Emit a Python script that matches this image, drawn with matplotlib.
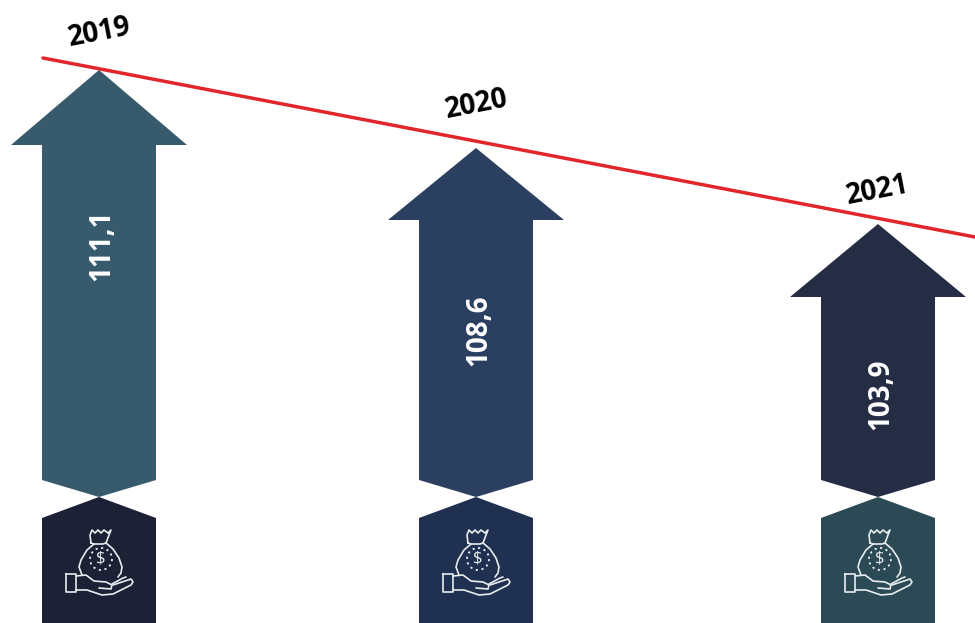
#!/usr/bin/env python3
"""Three falling arrows with a red trend line, laid out in image pixels."""

import matplotlib

matplotlib.use("Agg")
import matplotlib.pyplot as plt
from matplotlib.patches import Circle, Polygon

years = ["2019", "2020", "2021"]
value_labels = ["111,1", "108,6", "103,9"]
centers = [99, 476, 878]
arrow_tips = [70, 148, 224]
head_bases = [145, 220, 297]
arrow_colors = ["#375a6c", "#2b3f60", "#252d45"]
base_colors = ["#1c2136", "#1f3050", "#2b4a55"]
year_xy = [(100, 33), (477, 105), (878, 191)]
label_y = [245, 330, 394]
trend_x = [43, 975]
trend_y = [58, 237]

plt.rcParams["font.family"] = ["Open Sans", "DejaVu Sans"]
ICON = "#e8ecef"


def draw_icon(ax, cx):
    # offsets are from the arrow centre and the notch at y=497
    def line(xs, ys):
        ax.plot([cx + x for x in xs], [497 + y for y in ys], color=ICON, lw=1.2,
                solid_capstyle="round", solid_joinstyle="round")

    # bag
    line([-8, -9, -7, -4, -1, 2, 5, 9, 12, 10, 7, 4, -5, -8],
         [46, 38, 33, 36, 33, 36, 33, 36, 33, 38, 46, 47, 47, 46])
    line([-5, -12, -18, -20, -17], [47, 53, 63, 70, 78])
    line([7, 14, 20, 23, 22, 19], [46, 52, 61, 70, 76, 80])
    ax.add_patch(Circle((cx + 2, 497 + 62), 11, fill=False, ec=ICON, lw=1.3, ls=(0, (1.2, 2.0))))
    ax.text(cx + 2, 497 + 62, "$", color=ICON, fontsize=12, ha="center", va="center")
    # hand and cuff
    line([-33, -23, -23, -33, -33], [77, 77, 95, 95, 77])
    line([-23, -13, -5, 7, 13, 12, 0], [79, 78, 84, 85, 88, 92, 91])
    line([-23, -12, 3, 14, 32, 34, 32, 14], [93, 93, 98, 97, 88, 85, 82, 88])
    line([13, 24, 27], [87, 81, 80])


fig = plt.figure(figsize=(9.75, 6.23), dpi=100)
ax = fig.add_axes([0, 0, 1, 1])
ax.set_xlim(0, 975)
ax.set_ylim(623, 0)
ax.axis("off")

for i, cx in enumerate(centers):
    # main arrow with a pointed tail
    ax.add_patch(Polygon(
        [(cx, arrow_tips[i]), (cx + 88, head_bases[i]), (cx + 57, head_bases[i]), (cx + 57, 480),
         (cx, 497), (cx - 57, 480), (cx - 57, head_bases[i]), (cx - 88, head_bases[i])],
        closed=True, fc=arrow_colors[i], ec="none"))
    # icon plate below it
    ax.add_patch(Polygon(
        [(cx, 497), (cx + 57, 518), (cx + 57, 623), (cx - 57, 623), (cx - 57, 518)],
        closed=True, fc=base_colors[i], ec="none"))
    draw_icon(ax, cx)
    ax.text(cx + 3, label_y[i], value_labels[i], color="white", fontsize=20, fontweight="bold",
            rotation=90, ha="center", va="center")
    ax.text(year_xy[i][0], year_xy[i][1], years[i], color="black", fontsize=20, fontweight="bold",
            rotation=11, ha="center", va="center", rotation_mode="anchor")

ax.plot(trend_x, trend_y, color="#e0262a", lw=2.5, solid_capstyle="round", zorder=5)

fig.savefig("out.png", dpi=100)
plt.close(fig)
